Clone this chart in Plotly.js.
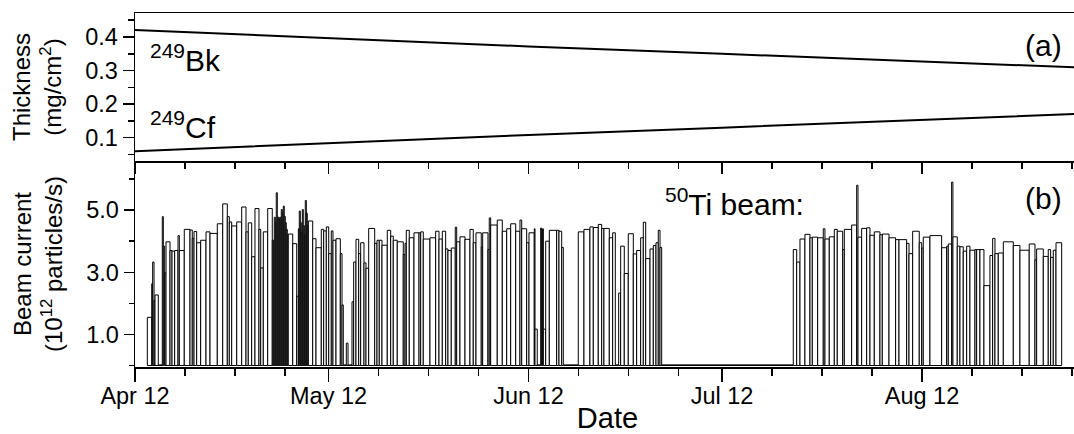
<!DOCTYPE html>
<html><head><meta charset="utf-8">
<script src="https://cdn.plot.ly/plotly-3.0.1.min.js"></script>
<style>html,body{margin:0;padding:0;overflow:hidden;background:#fff}#chart{width:1090px;height:434px}</style>
</head><body><div id="chart"></div>
<script>
// ---- data ----
const startDate = [2012, 3, 12]; // Apr 12 (UTC)
// target thickness (mg/cm^2) vs elapsed days
const thicknessDays = [0, 30, 61, 91, 122, 146.5];
const bk249 = [0.421, 0.396, 0.372, 0.350, 0.328, 0.309];
const cf249 = [0.060, 0.084, 0.108, 0.130, 0.152, 0.171];

// 50Ti beam current (1e12 particles/s): each run starts at runStartDay and lasts until the next start
const runStartDay = [
1.91, 2.59, 2.74, 2.95, 3.10, 3.61, 4.23, 4.39, 4.60, 4.81,
5.43, 5.74, 6.15, 6.67, 6.87, 7.64, 8.53, 8.88, 9.15, 9.56,
10.18, 11.01, 11.63, 12.76, 13.60, 14.31, 14.62, 14.99, 15.77, 16.54,
17.21, 17.56, 18.09, 18.60, 19.22, 19.49, 19.89, 20.57,
21.28, 21.44, 21.59, 21.75, 21.90, 22.06, 22.21, 22.37, 22.52, 22.68, 22.83, 22.99, 23.14, 23.30, 23.45, 23.61,
23.76, 24.45, 25.07,
25.32, 25.47, 25.63, 25.78, 25.94, 26.09, 26.25, 26.40, 26.56, 26.71,
26.87, 27.55, 28.06, 28.88, 29.25, 29.66, 30.03, 30.43, 30.69, 31.16, 31.83, 32.09, 32.29, 32.76, 33.02, 33.64, 33.90, 34.26, 34.68, 34.99, 35.50, 35.81, 36.23, 37.16, 37.52, 37.87, 38.29,
39.11, 39.64, 40.04, 40.66, 41.59, 41.86, 42.06, 42.52, 43.25, 44.03, 44.29, 44.69, 45.73, 46.61, 47.13, 47.64, 48.16, 48.52, 49.03, 49.65, 49.87, 50.38, 51.16, 51.93, 52.44, 52.86, 53.68, 53.90, 54.72, 54.92, 55.14, 56.16, 56.94, 57.62, 58.24, 59.02,
59.68, 59.95, 60.72, 61.08, 61.90, 62.01, 62.36, 62.89, 63.05, 63.20, 63.30, 63.67, 64.23, 65.37, 65.73, 66.15, 66.40,
68.72, 69.60, 70.53, 71.05, 71.82, 72.35, 72.70, 73.53, 74.05, 74.46, 74.98, 75.29, 75.85, 76.47, 77.25, 77.77, 78.39, 78.80, 79.17, 79.84, 80.35, 80.77, 81.12, 81.39, 81.65,
102.05, 102.58, 103.09, 103.86, 104.64, 105.00, 105.83, 106.70, 106.96, 107.63, 108.41, 108.87, 109.71, 109.96, 111.10, 111.88, 112.08, 112.65, 113.43, 113.94, 114.61, 115.49, 115.85, 116.89, 117.92, 118.44, 119.63, 119.99, 120.56, 121.58, 121.96,
122.20, 123.24, 125.05, 125.83, 126.08, 126.60, 126.80, 127.47, 127.89, 128.40, 128.93, 129.44, 130.22, 130.48, 130.99, 131.61, 132.54, 132.96, 133.32, 133.83, 134.61, 136.16, 137.19, 138.63, 139.52, 139.78, 140.81, 141.58, 141.95, 142.36, 142.78
];
const runEndDay = 143.66;
const beamCurrent = [
1.55, 2.63, 3.33, 2.10, 2.27, 0.02, 4.79, 3.84, 2.98, 3.98,
3.70, 3.68, 3.70, 4.18, 3.70, 4.38, 4.36, 4.09, 4.31, 3.95,
4.03, 4.30, 4.25, 4.56, 5.20, 4.79, 4.62, 4.49, 4.62, 5.10,
4.30, 4.59, 3.50, 5.05, 4.38, 3.14, 4.30, 5.05,
4.03, 4.03, 4.77, 4.60, 5.56, 4.77, 4.77, 4.70, 4.77, 5.02, 4.90, 5.13, 4.80, 4.60, 4.38, 4.20,
4.23, 3.92, 2.23,
4.40, 4.97, 4.60, 4.30, 5.02, 4.50, 4.20, 5.31, 4.90, 4.50,
4.65, 4.08, 3.79, 4.38, 4.33, 4.46, 3.60, 4.33, 4.03, 4.08, 3.60, 1.95, 0.02, 0.72, 0.02, 2.05, 3.33, 4.06, 3.60, 3.95, 3.30, 3.13, 4.41, 3.93, 4.03, 4.03, 3.87,
4.35, 4.16, 4.03, 3.98, 3.57, 3.93, 4.35, 4.11, 4.27, 4.27, 4.30, 4.07, 4.11, 4.32, 4.07, 4.32, 3.75, 3.70, 3.78, 4.45, 3.98, 4.14, 4.06, 4.38, 3.95, 4.27, 3.82, 4.27, 3.73, 4.75, 4.52, 4.68, 4.32, 4.40, 4.56, 4.32,
4.68, 4.40, 3.95, 4.27, 4.40, 1.17, 0.02, 4.42, 4.38, 4.40, 1.17, 4.00, 4.35, 4.35, 4.32, 3.80, 0.02,
4.30, 4.38, 4.46, 4.44, 4.54, 4.41, 4.41, 4.11, 4.27, 0.02, 2.33, 3.84, 2.96, 4.24, 3.59, 3.70, 4.11, 4.61, 3.44, 3.75, 3.86, 3.95, 4.35, 3.80, 0.02,
3.73, 3.33, 4.07, 4.22, 4.11, 4.13, 4.11, 4.40, 4.07, 4.14, 4.38, 4.32, 3.73, 4.38, 4.52, 5.80, 4.13, 4.41, 4.43, 4.19, 4.30, 4.21, 4.23, 4.11, 4.05, 4.05, 3.93, 3.60, 4.32, 3.95, 3.78,
4.13, 4.18, 3.79, 3.84, 3.91, 5.90, 4.14, 3.84, 3.82, 3.68, 3.84, 3.71, 3.73, 3.73, 3.73, 2.57, 3.54, 4.09, 3.60, 3.62, 3.98, 3.86, 3.71, 3.91, 3.40, 3.75, 3.51, 3.73, 3.48, 3.71, 3.95
];

const monthTickDays = [0, 30, 61, 91, 122];
const monthTickLabels = ['Apr 12', 'May 12', 'Jun 12', 'Jul 12', 'Aug 12'];
const thicknessTicks = [0.1, 0.2, 0.3, 0.4];
const thicknessTickLabels = ['0.1', '0.2', '0.3', '0.4'];
const thicknessMinor = [0.05, 0.15, 0.25, 0.35, 0.45];
const currentTicks = [1, 3, 5];
const currentTickLabels = ['1.0', '3.0', '5.0'];
const currentMinor = [0, 2, 4, 6];

// ---- build ----
const DAY = 86400000;
const t0 = Date.UTC(startDate[0], startDate[1], startDate[2]);
const toMs = d => t0 + d * DAY;
const xRange = [toMs(0), toMs(146.5)];
const majorMs = monthTickDays.map(toMs);
const minorMs = [];
monthTickDays.forEach(d => { for (let k = 1; k <= 3; k++) minorMs.push(toMs(d + k * 7.75)); });

const barX = runStartDay.map(toMs);
const barW = runStartDay.map((d, i) => ((i + 1 < runStartDay.length ? runStartDay[i + 1] : runEndDay) - d) * DAY);

const FONT = 'Liberation Sans, Arial, sans-serif';
const black = '#000';

const traces = [
  {type: 'bar', x: barX, y: beamCurrent, width: barW, offset: 0, xaxis: 'x', yaxis: 'y',
   marker: {color: '#fff', line: {color: black, width: 1}}, hoverinfo: 'skip'},
  {type: 'scatter', mode: 'lines', x: thicknessDays.map(toMs), y: bk249, xaxis: 'x2', yaxis: 'y2',
   line: {color: black, width: 2}},
  {type: 'scatter', mode: 'lines', x: thicknessDays.map(toMs), y: cf249, xaxis: 'x2', yaxis: 'y2',
   line: {color: black, width: 2}}
];

const split = 0.5819;
const tickfont = {family: FONT, size: 23.5, color: black};
const common = {showgrid: false, zeroline: false, showline: true, linecolor: black, linewidth: 1.5,
  tickcolor: black, tickwidth: 1.5};

const layout = {
  width: 1090, height: 434,
  margin: {l: 135, r: 10, t: 13, b: 67, pad: 0},
  paper_bgcolor: '#fff', plot_bgcolor: '#fff',
  showlegend: false,
  font: {family: FONT, color: black},
  bargap: 0,
  xaxis: Object.assign({}, common, {
    domain: [0, 1], anchor: 'y', type: 'date', range: xRange,
    tickmode: 'array', tickvals: majorMs, ticktext: monthTickLabels,
    ticks: 'outside', ticklen: 13, mirror: false, tickfont: tickfont, ticklabelstandoff: -6,
    minor: {tickmode: 'array', tickvals: minorMs, ticks: 'outside', ticklen: 7, tickwidth: 1.5, tickcolor: black},
    title: {text: 'Date', font: {family: FONT, size: 29, color: black}, standoff: 16}
  }),
  xaxis2: Object.assign({}, common, {
    domain: [0, 1], anchor: 'y2', type: 'date', range: xRange,
    tickmode: 'array', tickvals: majorMs, showticklabels: false,
    ticks: 'outside', ticklen: 11, mirror: true,
    minor: {tickmode: 'array', tickvals: minorMs, ticks: 'outside', ticklen: 6, tickwidth: 1.5, tickcolor: black}
  }),
  xaxis3: Object.assign({}, common, {
    overlaying: 'x2', anchor: 'y2', side: 'top', type: 'date', range: xRange, showline: false,
    tickmode: 'array', tickvals: majorMs, showticklabels: false,
    ticks: 'inside', ticklen: 11,
    minor: {tickmode: 'array', tickvals: minorMs, ticks: 'inside', ticklen: 6, tickwidth: 1.5, tickcolor: black}
  }),
  yaxis: Object.assign({}, common, {
    domain: [0, split], anchor: 'x', range: [-0.048, 6.58],
    tickmode: 'array', tickvals: currentTicks, ticktext: currentTickLabels,
    ticks: 'outside', ticklen: 10, mirror: true, tickfont: tickfont,
    minor: {tickmode: 'array', tickvals: currentMinor, ticks: 'outside', ticklen: 5, tickwidth: 1.5, tickcolor: black},
    title: {text: 'Beam current<br>(10<sup>12</sup> particles/s)', font: {family: FONT, size: 24, color: black}, standoff: 16}
  }),
  yaxis2: Object.assign({}, common, {
    domain: [split, 1], anchor: 'x2', range: [0.0306, 0.4715],
    tickmode: 'array', tickvals: thicknessTicks, ticktext: thicknessTickLabels,
    ticks: 'outside', ticklen: 11, mirror: true, tickfont: tickfont,
    minor: {tickmode: 'array', tickvals: thicknessMinor, ticks: 'outside', ticklen: 6, tickwidth: 1.5, tickcolor: black},
    title: {text: 'Thickness<br>(mg/cm<sup>2</sup>)', font: {family: FONT, size: 24, color: black}, standoff: 16}
  }),
  yaxis3: Object.assign({}, common, {
    overlaying: 'y', anchor: 'x', side: 'right', range: [-0.048, 6.58], showline: false,
    tickmode: 'array', tickvals: currentTicks, showticklabels: false, ticks: 'inside', ticklen: 10,
    minor: {tickmode: 'array', tickvals: currentMinor, ticks: 'inside', ticklen: 5, tickwidth: 1.5, tickcolor: black}
  }),
  yaxis4: Object.assign({}, common, {
    overlaying: 'y2', anchor: 'x2', side: 'right', range: [0.0306, 0.4715], showline: false,
    tickmode: 'array', tickvals: thicknessTicks, showticklabels: false, ticks: 'inside', ticklen: 11,
    minor: {tickmode: 'array', tickvals: thicknessMinor, ticks: 'inside', ticklen: 6, tickwidth: 1.5, tickcolor: black}
  }),
  annotations: [
    {text: '<sup>249</sup>Bk', xref: 'paper', yref: 'paper', x: 0.0134, y: 0.873, xanchor: 'left', yanchor: 'middle',
     showarrow: false, font: {family: FONT, size: 30, color: black}},
    {text: '<sup>249</sup>Cf', xref: 'paper', yref: 'paper', x: 0.0134, y: 0.6836, xanchor: 'left', yanchor: 'middle',
     showarrow: false, font: {family: FONT, size: 30, color: black}},
    {text: '(a)', xref: 'paper', yref: 'paper', x: 0.9619, y: 0.9096, xanchor: 'center', yanchor: 'middle',
     showarrow: false, font: {family: FONT, size: 30, color: black}},
    {text: '(b)', xref: 'paper', yref: 'paper', x: 0.9614, y: 0.4774, xanchor: 'center', yanchor: 'middle',
     showarrow: false, font: {family: FONT, size: 30, color: black}},
    {text: '<sup>50</sup>Ti beam:', xref: 'paper', yref: 'paper', x: 0.5587, y: 0.466, xanchor: 'left', yanchor: 'middle',
     showarrow: false, font: {family: FONT, size: 30, color: black}}
  ]
};

Plotly.newPlot('chart', traces, layout, {staticPlot: true, displayModeBar: false});
</script>
</body></html>
